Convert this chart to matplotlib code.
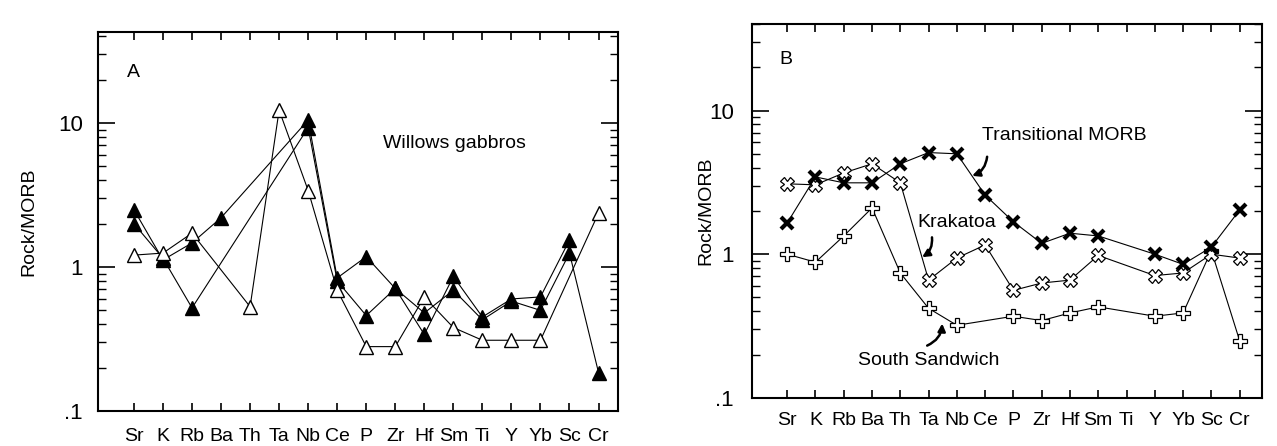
import numpy as np
import matplotlib.pyplot as plt

plt.rcParams['font.family'] = ['Liberation Sans', 'DejaVu Sans']

# elementos (eixo x comum aos dois painéis)
elements = ['Sr', 'K', 'Rb', 'Ba', 'Th', 'Ta', 'Nb', 'Ce', 'P', 'Zr', 'Hf', 'Sm', 'Ti', 'Y', 'Yb', 'Sc', 'Cr']
nan = np.nan

# Painel A - Willows gabbros (Rock/MORB)
willows_filled_1 = [2.5, 1.12, 1.47, 2.2, nan, nan, 10.5, 0.84, 1.18, 0.71, 0.34, 0.86, 0.45, 0.6, 0.62, 1.54, nan]
willows_filled_2 = [2.0, 1.15, 0.52, nan, nan, nan, 9.3, 0.8, 0.46, 0.71, 0.48, 0.69, 0.43, 0.58, 0.5, 1.25, 0.185]
willows_open = [1.21, 1.25, 1.72, nan, 0.53, 12.3, 3.4, 0.69, 0.28, 0.28, 0.62, 0.38, 0.31, 0.31, 0.31, nan, 2.37]

# Painel B - basaltos de comparação
transitional_morb = [1.65, 3.45, 3.14, 3.14, 4.26, 5.1, 5.0, 2.58, 1.68, 1.19, 1.4, 1.34, nan, 1.0, 0.85, 1.12, 2.03]
krakatoa = [3.09, 3.04, 3.68, 4.26, 3.14, 0.66, 0.94, 1.16, 0.56, 0.63, 0.66, 0.98, nan, 0.71, 0.74, 1.0, 0.94]
south_sandwich = [1.0, 0.88, 1.34, 2.1, 0.74, 0.42, 0.32, nan, 0.37, 0.345, 0.39, 0.43, nan, 0.37, 0.39, 1.06, 0.25]

x = np.arange(len(elements))


def plot_series(ax, values, **kw):
    # liga apenas os pontos existentes (pula elementos sem dado)
    v = np.array(values, dtype=float)
    m = ~np.isnan(v)
    ax.plot(x[m], v[m], color='black', lw=0.8, **kw)


def style_axes(ax, xlim, ylim, xpad, ypad):
    ax.set_yscale('log')
    ax.set_xlim(*xlim)
    ax.set_ylim(*ylim)
    ax.set_xticks(x)
    ax.set_xticklabels(elements)
    ax.set_yticks([0.1, 1, 10])
    ax.set_yticklabels(['.1', '1', '10'])
    ax.tick_params(axis='x', which='both', direction='in', top=True, length=6, width=1.2,
                   labelsize=14, pad=xpad)
    ax.tick_params(axis='y', which='major', direction='in', right=True, length=12, width=1.2,
                   labelsize=16, pad=ypad)
    ax.tick_params(axis='y', which='minor', direction='in', right=True, length=6, width=1.0)
    ax.yaxis.set_minor_formatter(plt.NullFormatter())
    for s in ax.spines.values():
        s.set_linewidth(1.5)


fig = plt.figure(figsize=(12.77, 4.46), dpi=100)

# ---------- Painel A ----------
axA = fig.add_axes([0.0767, 0.0785, 0.407, 0.85])
plot_series(axA, willows_filled_1, marker='^', ms=10, mfc='black', mec='black')
plot_series(axA, willows_filled_2, marker='^', ms=10, mfc='black', mec='black')
plot_series(axA, willows_open, marker='^', ms=10, mfc='white', mec='black', mew=1.0)
style_axes(axA, (-1.24, 16.66), (0.1, 43), 12, 11)
axA.set_ylabel('Rock/MORB', fontsize=14)
axA.yaxis.set_label_coords(-0.117, 0.5)
axA.text(-0.03, 22.3, 'A', fontsize=14, ha='center', va='center')
axA.text(8.57, 7.26, 'Willows gabbros', fontsize=14, va='center')

# ---------- Painel B ----------
axB = fig.add_axes([0.589, 0.108, 0.399, 0.838])
plot_series(axB, south_sandwich, marker='P', ms=10, mfc='white', mec='black', mew=0.9)
plot_series(axB, krakatoa, marker='X', ms=10, mfc='white', mec='black', mew=0.9)
plot_series(axB, transitional_morb, marker='x', ms=9, mec='black', mew=3)
style_axes(axB, (-1.24, 16.78), (0.1, 40), 10, 13)
axB.set_ylabel('Rock/MORB', fontsize=14)
axB.yaxis.set_label_coords(-0.075, 0.5)
axB.text(-0.04, 22.7, 'B', fontsize=14, ha='center', va='center')

arrow = dict(arrowstyle='-|>', color='black', lw=1.8, mutation_scale=11,
             connectionstyle='arc3,rad=-0.3', shrinkA=0, shrinkB=0)
axB.text(6.89, 6.7, 'Transitional MORB', fontsize=14, va='center')
axB.annotate('', xy=(6.54, 3.51), xytext=(7.07, 4.77), arrowprops=arrow)
axB.text(4.59, 1.67, 'Krakatoa', fontsize=14, va='center')
axB.annotate('', xy=(4.77, 0.953), xytext=(5.12, 1.31), arrowprops=arrow)
axB.text(2.51, 0.181, 'South Sandwich', fontsize=14, va='center')
axB.annotate('', xy=(5.48, 0.329), xytext=(4.95, 0.231), arrowprops=dict(arrow, connectionstyle='arc3,rad=0.3'))

fig.savefig('out.png', dpi=100)
